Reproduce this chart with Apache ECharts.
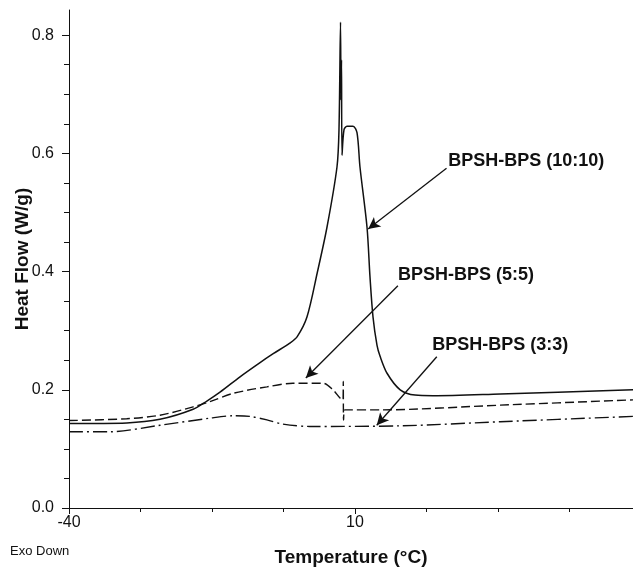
<!DOCTYPE html>
<html>
<head>
<meta charset="utf-8">
<script src="https://cdn.jsdelivr.net/npm/echarts@6/dist/echarts.min.js"></script>
<style>
  html, body { margin: 0; padding: 0; background: #fff; }
  #main { width: 633px; height: 570px; }
</style>
</head>
<body>
<div id="main"></div>
<script>
// BPSH-BPS (10:10) - solid
var temp1010 = [-40, -29.9, -24.1, -18.3, -15.9, -13.6, -10.1, -6.6, -4.3, -1.4, -0.1, 1.6, 3.4, 5.1, 6.85, 7.2, 7.47, 7.55, 7.64, 7.73, 8.08, 8.6, 9.65, 10.35, 10.87, 12.1, 12.62, 13.15, 13.85, 14.37, 15.6, 17.9, 20.5, 23.6, 35.4, 58.6];
var flow1010 = [0.143, 0.144, 0.150, 0.167, 0.181, 0.196, 0.222, 0.246, 0.261, 0.279, 0.290, 0.323, 0.398, 0.475, 0.577, 0.640, 0.822, 0.690, 0.758, 0.597, 0.640, 0.646, 0.646, 0.635, 0.577, 0.475, 0.391, 0.323, 0.275, 0.257, 0.228, 0.200, 0.191, 0.190, 0.193, 0.200];
// BPSH-BPS (5:5) - dashed
var temp55 = [-40, -29.9, -24.1, -18.3, -15.35, -11.3, -5.4, -0.84, 4.41, 6.15, 7.38, 7.9, 7.95, 8.0, 8.25, 14.4, 35.4, 58.6];
var flow55 = [0.148, 0.151, 0.157, 0.171, 0.180, 0.194, 0.205, 0.211, 0.211, 0.200, 0.186, 0.183, 0.214, 0.149, 0.166, 0.166, 0.174, 0.183];
// BPSH-BPS (3:3) - dash-dot
var temp33 = [-40, -32.8, -24.1, -15.35, -11.3, -8.4, -5.4, -2.6, 2.1, 17.9, 35.4, 58.6];
var flow33 = [0.129, 0.129, 0.140, 0.152, 0.156, 0.155, 0.149, 0.142, 0.138, 0.139, 0.146, 0.155];

// ticks
var xMajor = [-40, 10];
var xMinor = [-27.5, -15, -2.5, 22.5, 35, 47.5];
var yMajor = [0, 0.2, 0.4, 0.6, 0.8];
var yMinor = [0.05, 0.1, 0.15, 0.25, 0.3, 0.35, 0.45, 0.5, 0.55, 0.65, 0.7, 0.75];

// annotations (data coords)
var noteText = ['BPSH-BPS (10:10)', 'BPSH-BPS (5:5)', 'BPSH-BPS (3:3)'];
var noteAt = [[26.3, 0.587], [17.5, 0.394], [23.5, 0.276]];
var arrowFrom = [[26.0, 0.575], [17.5, 0.376], [24.3, 0.256]];
var arrowTo = [[12.3, 0.472], [1.4, 0.220], [13.8, 0.140]];

function zip(xs, ys) {
    return xs.map(function (x, i) { return [x, ys[i]]; });
}

var font = 'Liberation Sans, Arial, sans-serif';
var xMin = -40, xMax = 58.6, yMin = 0, yMax = 0.8426;

var myChart = echarts.init(document.getElementById('main'));

var lineBase = {
    type: 'line',
    showSymbol: false,
    smooth: 0.3,
    silent: true,
    xAxisIndex: 0,
    yAxisIndex: 0
};

var option = {
    animation: false,
    backgroundColor: '#fff',
    grid: { left: 69, right: 0, top: 10, bottom: 62, containLabel: false, outerBoundsMode: 'none' },
    xAxis: [
        {
            type: 'value', min: xMin, max: xMax,
            name: 'Temperature (°C)',
            nameLocation: 'middle',
            nameGap: 40,
            nameMoveOverlap: false,
            nameTextStyle: { fontFamily: font, fontSize: 19, fontWeight: 'bold', color: '#111' },
            axisLine: { onZero: false, lineStyle: { color: '#111', width: 1 } },
            axisTick: { customValues: xMajor, length: 6, lineStyle: { color: '#111' } },
            axisLabel: { customValues: xMajor, margin: 7, fontFamily: font, fontSize: 16, color: '#111' },
            splitLine: { show: false }
        },
        {
            type: 'value', min: xMin, max: xMax, position: 'bottom',
            axisLine: { show: false, onZero: false },
            axisTick: { customValues: xMinor, length: 4, lineStyle: { color: '#111' } },
            axisLabel: { show: false },
            splitLine: { show: false }
        }
    ],
    yAxis: [
        {
            type: 'value', min: yMin, max: yMax,
            name: 'Heat Flow (W/g)',
            nameLocation: 'middle',
            nameGap: 37,
            nameMoveOverlap: false,
            nameTextStyle: { fontFamily: font, fontSize: 19, fontWeight: 'bold', color: '#111' },
            axisLine: { show: true, onZero: false, lineStyle: { color: '#111', width: 1 } },
            axisTick: { show: true, customValues: yMajor, length: 7, lineStyle: { color: '#111' } },
            axisLabel: { customValues: yMajor, margin: 15, fontFamily: font, fontSize: 16, color: '#111',
                formatter: function (v) { return v.toFixed(1); } },
            splitLine: { show: false }
        },
        {
            type: 'value', min: yMin, max: yMax, position: 'left',
            axisLine: { show: false, onZero: false },
            axisTick: { show: true, customValues: yMinor, length: 5, lineStyle: { color: '#111' } },
            axisLabel: { show: false },
            splitLine: { show: false }
        }
    ],
    graphic: [
        {
            type: 'text', left: 10, top: 545,
            style: { text: 'Exo Down', fontFamily: font, fontSize: 13, fill: '#111' }
        }
    ],
    series: [
        Object.assign({}, lineBase, {
            name: 'BPSH-BPS (10:10)',
            data: zip(temp1010, flow1010),
            lineStyle: { color: '#111', width: 1.5, type: 'solid' },
            markLine: {
                silent: true,
                symbol: ['none', 'arrow'],
                symbolSize: [9, 12],
                label: { show: false },
                lineStyle: { color: '#111', width: 1.3, type: 'solid' },
                data: arrowFrom.map(function (p, i) {
                    return [{ coord: p }, { coord: arrowTo[i] }];
                })
            },
            markPoint: {
                silent: true,
                symbol: 'circle',
                symbolSize: 0,
                label: {
                    show: true, position: 'right', distance: 0,
                    fontFamily: font, fontSize: 18, fontWeight: 'bold', color: '#111',
                    formatter: function (p) { return p.name; }
                },
                data: noteAt.map(function (p, i) {
                    return { name: noteText[i], coord: p };
                })
            }
        }),
        Object.assign({}, lineBase, {
            name: 'BPSH-BPS (5:5)',
            data: zip(temp55, flow55),
            lineStyle: { color: '#111', width: 1.4, type: [9, 4] }
        }),
        Object.assign({}, lineBase, {
            name: 'BPSH-BPS (3:3)',
            data: zip(temp33, flow33),
            lineStyle: { color: '#111', width: 1.4, type: [14, 4, 2, 4] }
        })
    ]
};
myChart.setOption(option);
</script>
</body>
</html>
